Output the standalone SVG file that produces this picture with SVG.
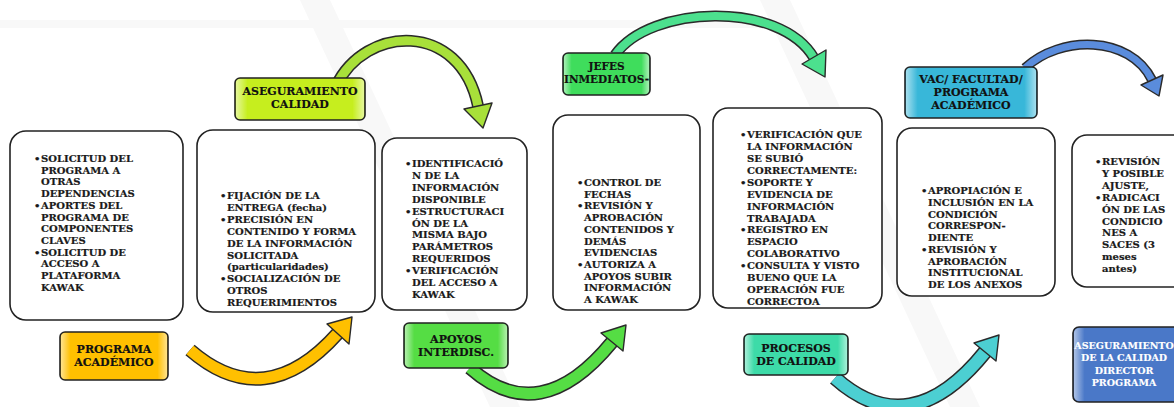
<svg xmlns="http://www.w3.org/2000/svg" width="1174" height="407" viewBox="0 0 1174 407">
<style>
.box{fill:#fff;stroke:#222;stroke-width:1.6}
.t{font-family:"DejaVu Serif","Liberation Serif",serif;font-weight:bold;font-size:10px;fill:#1a1a1a;stroke:#1a1a1a;stroke-width:0.2}
.lb{font-family:"DejaVu Serif","Liberation Serif",serif;font-weight:bold;font-size:11px;fill:#111;text-anchor:middle;stroke:#111;stroke-width:0.15}
.lbw{fill:#fff;stroke:#fff;font-size:9.5px}
.lab{stroke:#222;stroke-width:1.6}
.out{fill:none;stroke:#2a2a2a}
.ah{stroke:#2a2a2a;stroke-width:1.4;stroke-linejoin:round}
</style>
<defs>
<linearGradient id="gloss" x1="0" y1="0" x2="1" y2="0">
<stop offset="0" stop-color="#fff" stop-opacity="0.55"/>
<stop offset="0.09" stop-color="#fff" stop-opacity="0"/>
<stop offset="0.91" stop-color="#fff" stop-opacity="0"/>
<stop offset="1" stop-color="#fff" stop-opacity="0.55"/>
</linearGradient>
</defs>
<rect width="1174" height="407" fill="#fff"/>
<g id="background" fill="#f8f8f8">
<rect x="0" y="20" width="760" height="8"/>
<polygon points="300,0 330,0 520,407 490,407"/>
<polygon points="760,0 790,0 980,407 950,407"/>
</g>
<g id="connectors">
<g id="arrow-yellow">
<path class="out" d="M190,350 Q265,415 338,333" stroke-width="14"/>
<path d="M190,350 Q265,415 338,333" fill="none" stroke="#FFC000" stroke-width="11"/>
<polygon class="ah" fill="#FFC000" points="352,317 349,344 327,324"/>
</g>
<g id="arrow-lime">
<path class="out" d="M336,86 C365,25 460,20 478,106" stroke-width="12"/>
<path d="M336,86 C365,25 460,20 478,106" fill="none" stroke="#A8E03A" stroke-width="9"/>
<polygon class="ah" fill="#A8E03A" points="483,128 492,103 464,109"/>
</g>
<g id="arrow-green">
<path class="out" d="M470,368 Q540,430 612,342" stroke-width="14"/>
<path d="M470,368 Q540,430 612,342" fill="none" stroke="#55DD44" stroke-width="11"/>
<polygon class="ah" fill="#55DD44" points="626,325 623,351 601,333"/>
</g>
<g id="arrow-teal-top">
<path class="out" d="M615,55 C650,5 780,0 814,58" stroke-width="11"/>
<path d="M615,55 C650,5 780,0 814,58" fill="none" stroke="#4CE08E" stroke-width="8"/>
<polygon class="ah" fill="#4CE08E" points="825,77 826,50 802,64"/>
</g>
<g id="arrow-blue">
<path class="out" d="M1025,68 C1060,35 1130,35 1152,80" stroke-width="10"/>
<path d="M1025,68 C1060,35 1130,35 1152,80" fill="none" stroke="#5A8CDC" stroke-width="7"/>
<polygon class="ah" fill="#5A8CDC" points="1159,96 1163,75 1141,85"/>
</g>
<g id="arrow-cyan">
<path class="out" d="M835,378 Q910,445 985,352" stroke-width="15"/>
<path d="M835,378 Q910,445 985,352" fill="none" stroke="#4CCFD2" stroke-width="12"/>
<polygon class="ah" fill="#4CCFD2" points="999,335 996,361 974,343"/>
</g>
</g>
<g id="box1">
<rect class="box" x="10" y="131" width="173" height="189" rx="16"/>
<text class="t" y="162"><tspan x="34">•</tspan><tspan x="41">SOLICITUD DEL</tspan><tspan x="41" dy="11.7">PROGRAMA A</tspan><tspan x="41" dy="11.7">OTRAS</tspan><tspan x="41" dy="11.7">DEPENDENCIAS</tspan><tspan x="34" dy="11.7">•</tspan><tspan x="41">APORTES DEL</tspan><tspan x="41" dy="11.7">PROGRAMA DE</tspan><tspan x="41" dy="11.7">COMPONENTES</tspan><tspan x="41" dy="11.7">CLAVES</tspan><tspan x="34" dy="11.7">•</tspan><tspan x="41">SOLICITUD DE</tspan><tspan x="41" dy="11.7">ACCESO A</tspan><tspan x="41" dy="11.7">PLATAFORMA</tspan><tspan x="41" dy="11.7">KAWAK</tspan></text>
</g>
<g id="box2">
<rect class="box" x="197" y="130" width="178" height="182" rx="16"/>
<text class="t" y="199"><tspan x="220">•</tspan><tspan x="227">FIJACIÓN DE LA</tspan><tspan x="227" dy="11.9">ENTREGA (fecha)</tspan><tspan x="220" dy="11.9">•</tspan><tspan x="227">PRECISIÓN EN</tspan><tspan x="227" dy="11.9">CONTENIDO Y FORMA</tspan><tspan x="227" dy="11.9">DE LA INFORMACIÓN</tspan><tspan x="227" dy="11.9">SOLICITADA</tspan><tspan x="227" dy="11.9">(particularidades)</tspan><tspan x="220" dy="11.9">•</tspan><tspan x="227">SOCIALIZACIÓN DE</tspan><tspan x="227" dy="11.9">OTROS</tspan><tspan x="227" dy="11.9">REQUERIMIENTOS</tspan></text>
</g>
<g id="box3">
<rect class="box" x="382" y="138" width="145" height="172" rx="15"/>
<text class="t" y="167"><tspan x="405">•</tspan><tspan x="412">IDENTIFICACIÓ</tspan><tspan x="412" dy="11.9">N DE LA</tspan><tspan x="412" dy="11.9">INFORMACIÓN</tspan><tspan x="412" dy="11.9">DISPONIBLE</tspan><tspan x="405" dy="11.9">•</tspan><tspan x="412">ESTRUCTURACI</tspan><tspan x="412" dy="11.9">ÓN DE LA</tspan><tspan x="412" dy="11.9">MISMA BAJO</tspan><tspan x="412" dy="11.9">PARÁMETROS</tspan><tspan x="412" dy="11.9">REQUERIDOS</tspan><tspan x="405" dy="11.9">•</tspan><tspan x="412">VERIFICACIÓN</tspan><tspan x="412" dy="11.9">DEL ACCESO A</tspan><tspan x="412" dy="11.9">KAWAK</tspan></text>
</g>
<g id="box4">
<rect class="box" x="553" y="115" width="147" height="195" rx="15"/>
<text class="t" y="186"><tspan x="577">•</tspan><tspan x="584">CONTROL DE</tspan><tspan x="584" dy="11.7">FECHAS</tspan><tspan x="577" dy="11.7">•</tspan><tspan x="584">REVISIÓN Y</tspan><tspan x="584" dy="11.7">APROBACIÓN</tspan><tspan x="584" dy="11.7">CONTENIDOS Y</tspan><tspan x="584" dy="11.7">DEMÁS</tspan><tspan x="584" dy="11.7">EVIDENCIAS</tspan><tspan x="577" dy="11.7">•</tspan><tspan x="584">AUTORIZA A</tspan><tspan x="584" dy="11.7">APOYOS SUBIR</tspan><tspan x="584" dy="11.7">INFORMACIÓN</tspan><tspan x="584" dy="11.7">A KAWAK</tspan></text>
</g>
<g id="box5">
<rect class="box" x="713" y="108" width="169" height="200" rx="15"/>
<text class="t" y="138"><tspan x="740">•</tspan><tspan x="747">VERIFICACIÓN QUE</tspan><tspan x="747" dy="11.93">LA INFORMACIÓN</tspan><tspan x="747" dy="11.93">SE SUBIÓ</tspan><tspan x="747" dy="11.93">CORRECTAMENTE:</tspan><tspan x="740" dy="11.93">•</tspan><tspan x="747">SOPORTE Y</tspan><tspan x="747" dy="11.93">EVIDENCIA DE</tspan><tspan x="747" dy="11.93">INFORMACIÓN</tspan><tspan x="747" dy="11.93">TRABAJADA</tspan><tspan x="740" dy="11.93">•</tspan><tspan x="747">REGISTRO EN</tspan><tspan x="747" dy="11.93">ESPACIO</tspan><tspan x="747" dy="11.93">COLABORATIVO</tspan><tspan x="740" dy="11.93">•</tspan><tspan x="747">CONSULTA Y VISTO</tspan><tspan x="747" dy="11.93">BUENO QUE LA</tspan><tspan x="747" dy="11.93">OPERACIÓN FUE</tspan><tspan x="747" dy="11.93">CORRECTOA</tspan></text>
</g>
<g id="box6">
<rect class="box" x="897" y="128" width="158" height="168" rx="15"/>
<text class="t" y="194"><tspan x="921">•</tspan><tspan x="928">APROPIACIÓN E</tspan><tspan x="928" dy="11.75">INCLUSIÓN EN LA</tspan><tspan x="928" dy="11.75">CONDICIÓN</tspan><tspan x="928" dy="11.75">CORRESPON-</tspan><tspan x="928" dy="11.75">DIENTE</tspan><tspan x="921" dy="11.75">•</tspan><tspan x="928">REVISIÓN Y</tspan><tspan x="928" dy="11.75">APROBACIÓN</tspan><tspan x="928" dy="11.75">INSTITUCIONAL</tspan><tspan x="928" dy="11.75">DE LOS ANEXOS</tspan></text>
</g>
<g id="box7">
<rect class="box" x="1072" y="135" width="130" height="152" rx="15"/>
<text class="t" y="165"><tspan x="1095">•</tspan><tspan x="1102">REVISIÓN</tspan><tspan x="1102" dy="11.9">Y POSIBLE</tspan><tspan x="1102" dy="11.9">AJUSTE,</tspan><tspan x="1095" dy="11.9">•</tspan><tspan x="1102">RADICACI</tspan><tspan x="1102" dy="11.9">ÓN DE LAS</tspan><tspan x="1102" dy="11.9">CONDICIO</tspan><tspan x="1102" dy="11.9">NES A</tspan><tspan x="1102" dy="11.9">SACES (3</tspan><tspan x="1102" dy="11.9">meses</tspan><tspan x="1102" dy="11.9">antes)</tspan></text>
</g>
<g id="label-programa">
<rect class="lab" x="60" y="332" width="108" height="48" rx="5" fill="#FFC000"/>
<rect x="61" y="333" width="106" height="46" rx="4" fill="url(#gloss)"/>
<text class="lb" x="114" y="353">PROGRAMA<tspan x="114" dy="13">ACADÉMICO</tspan></text>
</g>
<g id="label-aseguramiento">
<rect class="lab" x="235" y="78" width="130" height="42" rx="5" fill="#C6EE1E"/>
<rect x="236" y="79" width="128" height="40" rx="4" fill="url(#gloss)"/>
<text class="lb" x="300" y="95">ASEGURAMIENTO<tspan x="300" dy="13">CALIDAD</tspan></text>
</g>
<g id="label-apoyos">
<rect class="lab" x="404" y="323" width="104" height="45" rx="5" fill="#55DD44"/>
<rect x="405" y="324" width="102" height="43" rx="4" fill="url(#gloss)"/>
<text class="lb" x="456" y="343">APOYOS<tspan x="456" dy="13">INTERDISC.</tspan></text>
</g>
<g id="label-jefes">
<rect class="lab" x="563" y="53" width="87" height="42" rx="5" fill="#3FDD5C"/>
<rect x="564" y="54" width="85" height="40" rx="4" fill="url(#gloss)"/>
<text class="lb" x="606.5" y="70" style="font-size:10.5px">JEFES<tspan x="606.5" dy="13">INMEDIATOS-</tspan></text>
</g>
<g id="label-procesos">
<rect class="lab" x="744" y="334" width="104" height="41" rx="5" fill="#3DDBA8"/>
<rect x="745" y="335" width="102" height="39" rx="4" fill="url(#gloss)"/>
<text class="lb" x="796" y="352">PROCESOS<tspan x="796" dy="13">DE CALIDAD</tspan></text>
</g>
<g id="label-vac">
<rect class="lab" x="905" y="67" width="132" height="51" rx="5" fill="#38B7D9"/>
<rect x="906" y="68" width="130" height="49" rx="4" fill="url(#gloss)"/>
<text class="lb" x="971" y="83">VAC/ FACULTAD/<tspan x="971" dy="13">PROGRAMA</tspan><tspan x="971" dy="13">ACADÉMICO</tspan></text>
</g>
<g id="label-director">
<rect class="lab" x="1073" y="327" width="120" height="75" rx="6" fill="#4A78C8"/>
<rect x="1074" y="328" width="118" height="73" rx="5" fill="url(#gloss)"/>
<text class="lb lbw" x="1124" y="349">ASEGURAMIENTO<tspan x="1124" dy="12.3">DE LA CALIDAD</tspan><tspan x="1124" dy="12.3">DIRECTOR</tspan><tspan x="1124" dy="12.3">PROGRAMA</tspan></text>
</g>
</svg>
